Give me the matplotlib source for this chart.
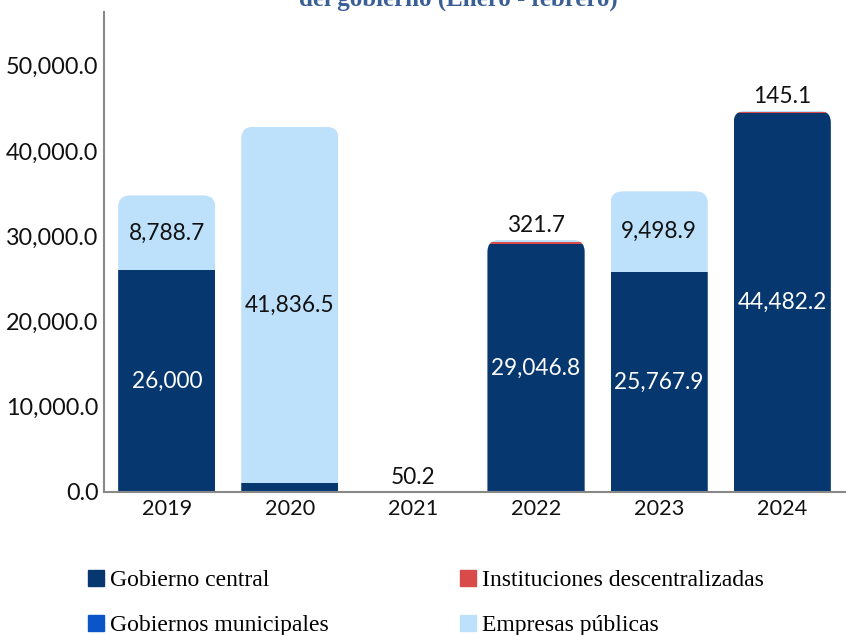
import matplotlib.pyplot as plt
from matplotlib.patches import FancyBboxPatch, Patch

# data (Enero - febrero)
years = ['2019', '2020', '2021', '2022', '2023', '2024']
gob_central = [26000, 1000, 0, 29046.8, 25767.9, 44482.2]
inst_descent = [0, 0, 0, 321.7, 0, 145.1]
gob_municipal = [0, 0, 0, 0, 0, 0]
empresas = [8788.7, 41836.5, 50.2, 200, 9498.9, 100]

c_gc = '#06376f'
c_id = '#d94b4b'
c_gm = '#0a55c8'
c_ep = '#bde0fb'

plt.rcParams['font.family'] = ['Lato', 'DejaVu Sans']

fig = plt.figure(figsize=(8.49, 6.35), dpi=100)
ax = fig.add_axes([104 / 849, 143 / 635, 741 / 849, 480 / 635])

x = list(range(len(years)))
w = 0.79
series = [(gob_central, c_gc), (inst_descent, c_id), (gob_municipal, c_gm), (empresas, c_ep)]

bottoms = [0] * len(years)
containers = []
for vals, col in series:
    bc = ax.bar(x, vals, w, bottom=bottoms, color=col, linewidth=0)
    containers.append(bc)
    bottoms = [b + v for b, v in zip(bottoms, vals)]
totals = bottoms

# round top corners via clip path
ymax = 56300
ax.set_ylim(0, ymax)
ax.set_xlim(-0.51, 5.51)
r = 0.1
aspect = 1408 / r
for i, tot in enumerate(totals):
    clip = FancyBboxPatch((x[i] - w / 2, -3000), w, tot + 3000,
                          boxstyle=f'round,pad=0,rounding_size={r}',
                          mutation_aspect=aspect, transform=ax.transData,
                          facecolor='none', edgecolor='none')
    ax.add_patch(clip)
    for bc in containers:
        bc[i].set_clip_path(clip)


def fmt(v):
    return f'{v:,.1f}'.removesuffix('.0')


lbl = 16.3
for i in x:
    gc = gob_central[i]
    ep = empresas[i]
    if gc > 5000:
        ax.text(i, gc / 2, fmt(gc), ha='center', va='center', color='white', fontsize=lbl)
    if ep > 5000:
        base = totals[i] - ep
        ax.text(i, base + ep / 2, fmt(ep), ha='center', va='center', color='#111111', fontsize=lbl)
    small = inst_descent[i] if inst_descent[i] > 0 else (ep if ep < 5000 and gc == 0 else None)
    if small is not None:
        ax.text(i, totals[i] + 400, fmt(small), ha='center', va='bottom', color='#111111', fontsize=lbl)

ax.set_yticks(range(0, 50001, 10000))
ax.set_yticklabels([f'{v:,.1f}' for v in range(0, 50001, 10000)], fontsize=16.8, color='#111111')
ax.set_xticks(x)
ax.set_xticklabels(years, fontsize=15.6, color='#111111')
ax.tick_params(length=0, pad=5)
ax.tick_params(axis='y', pad=4)
for s in ['top', 'right']:
    ax.spines[s].set_visible(False)
for s in ['left', 'bottom']:
    ax.spines[s].set_color('#888888')
    ax.spines[s].set_linewidth(1.5)

fig.text(0.54, 1.001, 'del gobierno (Enero - febrero)', ha='center', va='center',
         fontsize=18, fontweight='bold', color='#3a5f95', family='Liberation Serif')

handles = [Patch(color=c_gc, label='Gobierno central'),
           Patch(color=c_gm, label='Gobiernos municipales'),
           Patch(color=c_id, label='Instituciones descentralizadas'),
           Patch(color=c_ep, label='Empresas públicas')]
fig.legend(handles=handles, ncol=2, loc='upper left', bbox_to_anchor=(0.092, 0.118),
           frameon=False, prop={'family': 'Liberation Serif', 'size': 17},
           handlelength=0.7, handleheight=0.7, handletextpad=0.25,
           columnspacing=5.55, labelspacing=1.0, borderaxespad=0)

fig.savefig('out.png', dpi=100)
